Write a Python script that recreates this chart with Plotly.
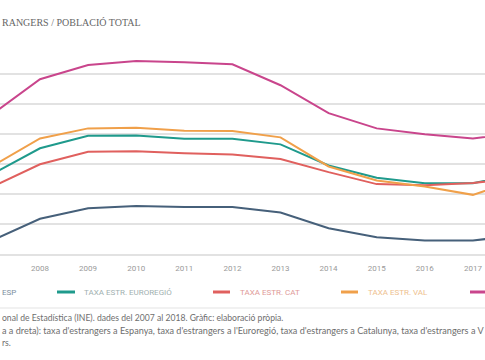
import plotly.graph_objects as go

years = [2007, 2008, 2009, 2010, 2011, 2012, 2013, 2014, 2015, 2016, 2017, 2018]
taxa_esp = [9.87, 11.33, 12.04, 12.18, 12.11, 12.11, 11.75, 10.69, 10.09, 9.87, 9.87, 10.25]
taxa_euro = [14.31, 16.05, 16.89, 16.91, 16.69, 16.69, 16.31, 14.90, 14.07, 13.71, 13.71, 14.35]
taxa_cat = [13.46, 14.98, 15.82, 15.85, 15.71, 15.64, 15.33, 14.45, 13.65, 13.58, 13.72, 14.10]
taxa_val = [14.84, 16.71, 17.38, 17.42, 17.22, 17.20, 16.78, 14.83, 13.89, 13.49, 12.93, 14.00]
taxa_ib = [18.32, 20.67, 21.62, 21.89, 21.80, 21.67, 20.27, 18.40, 17.38, 16.98, 16.71, 17.10]

series_names = ["TAXA ESTR. ESP", "TAXA ESTR. EUROREGIÓ", "TAXA ESTR. CAT", "TAXA ESTR. VAL", "TAXA ESTR. IB"]
legend_labels = ["ESP", "TAXA ESTR. EUROREGIÓ", "TAXA ESTR. CAT", "TAXA ESTR. VAL", ""]
series_values = [taxa_esp, taxa_euro, taxa_cat, taxa_val, taxa_ib]
line_colors = ["#46607a", "#1f9a8c", "#e0605e", "#f0a04a", "#c9458c"]
text_colors = ["#7d8fa0", "#9fb0b0", "#e09a98", "#eec08e", "#d88ab4"]

W, H = 485, 360
TOP, BOTTOM = 44, 254


def px(x):
    return x / W


def py(y):
    return (BOTTOM - y) / (BOTTOM - TOP)


fig = go.Figure()
for name, vals, col in zip(series_names, series_values, line_colors):
    fig.add_trace(go.Scatter(x=years, y=vals, mode="lines", name=name,
                             line=dict(color=col, width=2), showlegend=False))

shapes = []
annotations = []

# custom legend (partly cut by the frame, as in the reference)
leg_y = 292
samples = [(-60, -42), (57, 75), (213, 230), (341, 358), (470, 488)]
text_x = [0, 82, 238, 366, 495]
for i, lab in enumerate(legend_labels):
    x0, x1 = samples[i]
    shapes.append(dict(type="line", xref="paper", yref="paper",
                       x0=px(x0), x1=px(x1), y0=py(leg_y), y1=py(leg_y),
                       line=dict(color=line_colors[i], width=3)))
    if lab:
        annotations.append(dict(text=lab, xref="paper", yref="paper", x=px(text_x[i]), y=py(leg_y),
                                xanchor="left", yanchor="middle", showarrow=False,
                                font=dict(family="Roboto", size=8, color=text_colors[i])))

# separator under legend
shapes.append(dict(type="line", xref="paper", yref="paper", x0=0, x1=1, y0=py(308), y1=py(308),
                   line=dict(color="#ececec", width=1.5)))

# title
annotations.append(dict(text="RANGERS / POBLACIÓ TOTAL", xref="paper", yref="paper",
                        x=px(0), y=py(22.5), xanchor="left", yanchor="middle", showarrow=False,
                        font=dict(family="Liberation Serif", size=10, color="#666666")))

# footnote lines
foot = [
    ("onal de Estadística (INE). dades del 2007 al 2018. Gràfic: elaboració pròpia.", 318, 8.6),
    ("a a dreta): taxa d'estrangers a Espanya, taxa d'estrangers a l'Euroregió, taxa d'estrangers a Catalunya, taxa d'estrangers a V", 330.5, 9.1),
    ("rs.", 342.5, 8.6),
]
for t, yy, fs in foot:
    annotations.append(dict(text=t, xref="paper", yref="paper", x=px(0), y=py(yy),
                            xanchor="left", yanchor="middle", showarrow=False,
                            font=dict(family="Lato", size=fs, color="#6e6e6e")))

x0_year = 2008 - 40 / 48.1
x1_year = 2008 + 445 / 48.1

fig.update_layout(
    width=W, height=H,
    margin=dict(l=0, r=0, t=TOP, b=H - BOTTOM, pad=0),
    paper_bgcolor="white", plot_bgcolor="white",
    shapes=shapes, annotations=annotations,
    xaxis=dict(range=[x0_year, x1_year], tickmode="array", tickvals=years,
               ticktext=[str(y) for y in years], showgrid=False, zeroline=False,
               showline=True, linecolor="#e2e2e2", linewidth=1.5, ticks="",
               tickfont=dict(family="Roboto", size=8, color="#9a9a9a"), ticklabelstandoff=6),
    yaxis=dict(range=[8.97, 23.03], tickmode="array", tickvals=[9, 11, 13, 15, 17, 19, 21, 23],
               showgrid=True, gridcolor="#e2e2e2", gridwidth=1.5, zeroline=False,
               showticklabels=False, ticks=""),
)

fig.write_html("out.html", post_script="document.body.style.margin='0px';",
               config={"displayModeBar": False})
